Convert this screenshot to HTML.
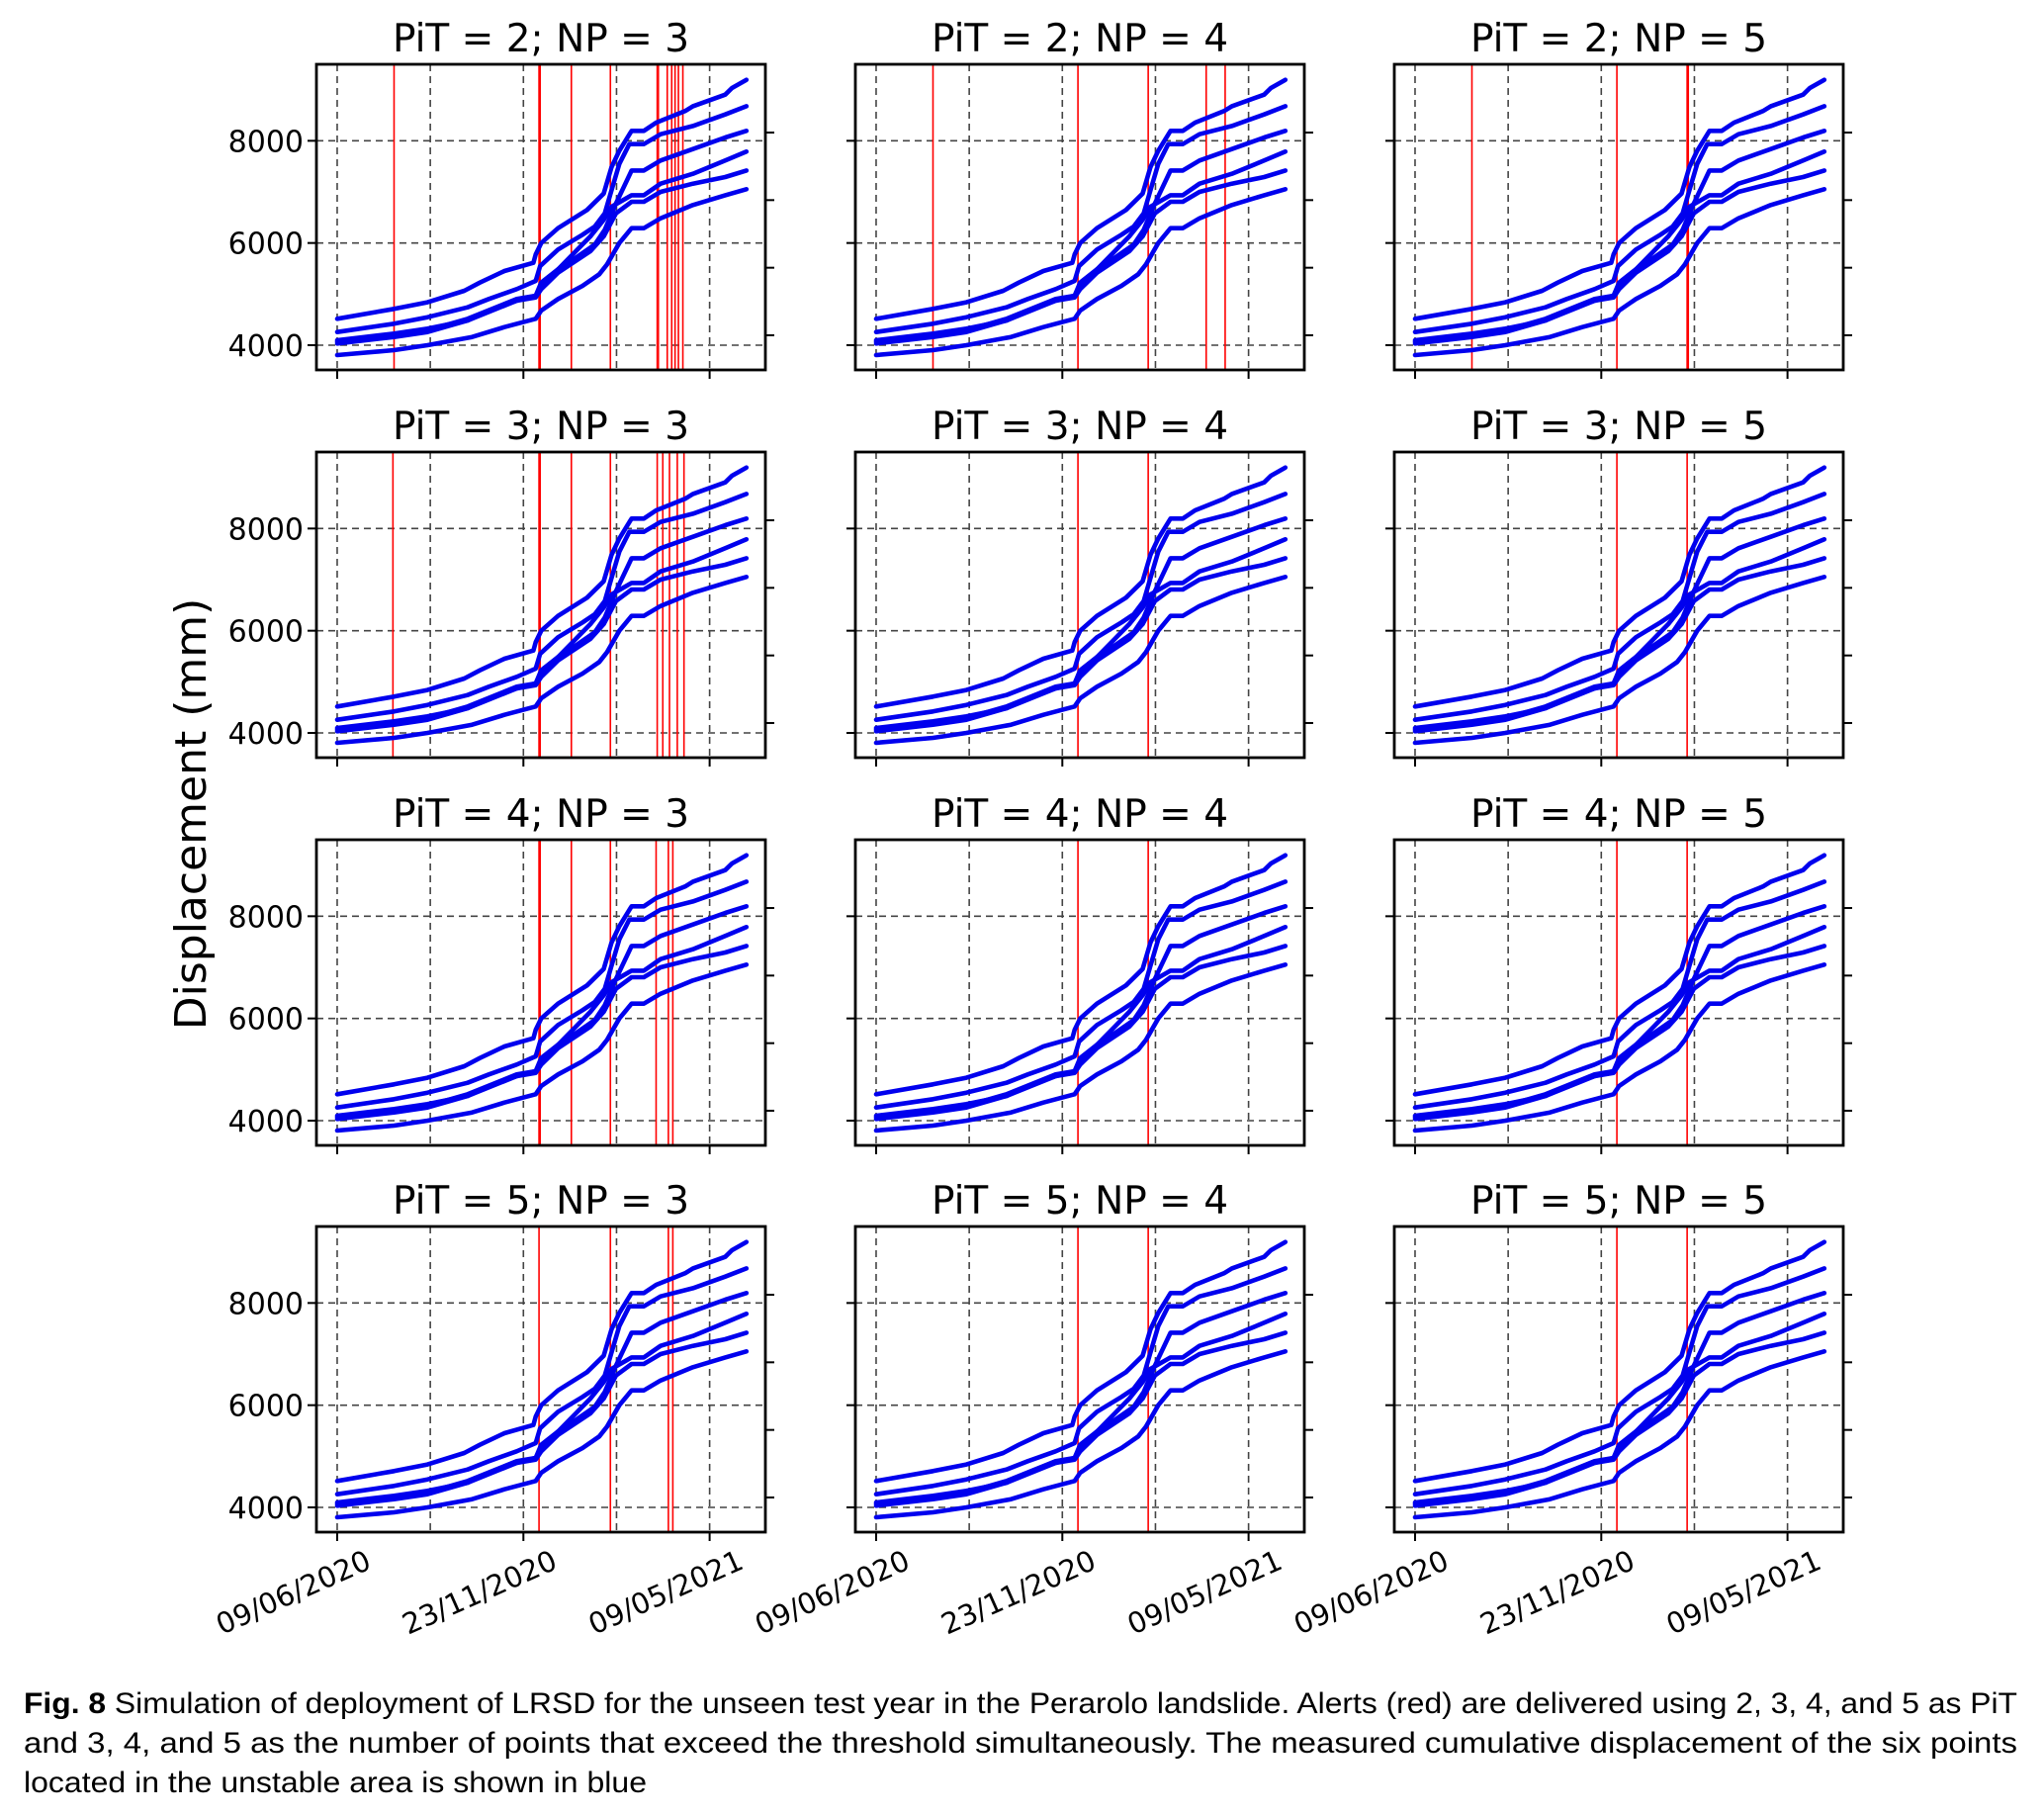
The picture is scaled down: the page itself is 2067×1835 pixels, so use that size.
<!DOCTYPE html>
<html><head><meta charset="utf-8"><style>
html,body{margin:0;padding:0;background:#fff;}
svg{display:block;font-family:"DejaVu Sans","Liberation Sans",sans-serif;}
</style></head><body>
<svg id="fig" width="2067" height="1835" viewBox="0 0 2067 1835" xmlns="http://www.w3.org/2000/svg">
<text x="0" y="0" font-size="44" text-anchor="middle" transform="translate(208,823) rotate(-90)">Displacement (mm)</text>
<g font-family="'Liberation Sans',sans-serif" font-size="30">
<text x="24" y="1732" textLength="2016" lengthAdjust="spacingAndGlyphs"><tspan font-weight="bold">Fig. 8</tspan>  Simulation of deployment of LRSD for the unseen test year in the Perarolo landslide. Alerts (red) are delivered using 2, 3, 4, and 5 as PiT</text>
<text x="24" y="1772" textLength="2016" lengthAdjust="spacingAndGlyphs">and 3, 4, and 5 as the number of points that exceed the threshold simultaneously. The measured cumulative displacement of the six points</text>
<text x="24" y="1812" textLength="630" lengthAdjust="spacingAndGlyphs">located in the unstable area is shown in blue</text>
</g>
</svg>
<script>
// days since 09/06/2020
const xTickDays=[0,167,334];
const xTickLabels=["09/06/2020","23/11/2020","09/05/2021"];
const yTicks=[4000,6000,8000];
const yTickLabels=["4000","6000","8000"];
const s1d=[0,51,81,114,128,150,176,178,183,198,224,239,246,253,264,275,286,312,319,348,354,367];
const s1v=[4516,4710,4839,5065,5226,5452,5613,5774,6000,6290,6645,6968,7484,7806,8194,8194,8355,8581,8677,8903,9032,9194];
const s2d=[0,51,81,117,136,161,178,182,198,220,231,240,246,253,262,275,290,319,348,367];
const s2v=[4258,4419,4548,4742,4903,5097,5258,5548,5871,6161,6323,6581,7032,7548,7935,7935,8129,8290,8516,8677];
const s3d=[0,51,81,117,136,161,178,183,198,216,231,240,250,264,275,290,319,348,367];
const s3v=[4097,4226,4323,4484,4677,4871,4968,5161,5484,5742,5968,6258,6774,7419,7419,7613,7839,8065,8194];
const s4d=[0,51,81,117,161,178,183,198,227,239,246,264,275,290,319,348,367];
const s4v=[4065,4194,4290,4516,4903,4968,5226,5484,6129,6452,6710,6935,6935,7161,7355,7613,7787];
const s5d=[0,51,81,117,161,178,183,198,227,239,250,264,275,290,319,348,367];
const s5v=[4032,4161,4258,4484,4871,4935,5097,5419,5839,6129,6581,6806,6806,7000,7161,7290,7419];
const s6d=[0,51,81,121,150,178,183,198,220,235,242,253,264,275,290,319,348,367];
const s6v=[3806,3903,4000,4161,4355,4516,4677,4903,5161,5387,5581,6000,6290,6290,6484,6742,6935,7052];
const pitValues=[2,3,4,5];
const npValues=[3,4,5];
const alerts23=[51,181,182,210,245,287,288,296,300,303,306,310];
const alerts24=[51,181,244,296,313];
const alerts25=[51,181,244,245];
const alerts33=[50,181,182,210,245,287,292,298,305,311];
const alerts34=[181,244];
const alerts35=[181,244];
const alerts43=[181,182,210,245,286,297,301];
const alerts44=[181,244];
const alerts45=[181,244];
const alerts53=[181,245,297,301];
const alerts54=[181,244];
const alerts55=[181,244];

const alerts=[[alerts23,alerts24,alerts25],[alerts33,alerts34,alerts35],[alerts43,alerts44,alerts45],[alerts53,alerts54,alerts55]];
const series=[[s1d,s1v],[s2d,s2v],[s3d,s3v],[s4d,s4v],[s5d,s5v],[s6d,s6v]];
const NS='http://www.w3.org/2000/svg';
const svg=document.getElementById('fig');
const colL=[320,865,1410], rowT=[65,457,849,1240], W=454, H=309;
const XMIN=-18.6, XMAX=384, YMIN=3516, YMAX=9497;
const secTicks=[4194,5516,6839,8161];
function mk(tag,attrs,parent){const e=document.createElementNS(NS,tag);for(const k in attrs)e.setAttribute(k,attrs[k]);parent.appendChild(e);return e;}
for(let r=0;r<4;r++)for(let c=0;c<3;c++){
  const L=colL[c],T=rowT[r];
  const xs=d=>L+(d-XMIN)/(XMAX-XMIN)*W;
  const ys=v=>T+H-(v-YMIN)/(YMAX-YMIN)*H;
  const g=mk('g',{},svg);
  
  
  const t=mk('text',{x:L+W/2,y:T-13,'font-size':39,'text-anchor':'middle'},g);
  
  
  t.textContent='PiT = '+pitValues[r]+'; NP = '+npValues[c];
  for(let i=0;i<5;i++){const gx=xs(i*83.5);
    const gl=mk('line',{x1:gx,x2:gx,y1:T,y2:T+H,stroke:'#444','stroke-width':1.6,'stroke-dasharray':'7,5'},g);
    
    }
  yTicks.forEach((v,i)=>{const gy=ys(v);
    const gl=mk('line',{x1:L,x2:L+W,y1:gy,y2:gy,stroke:'#444','stroke-width':1.6,'stroke-dasharray':'7,5'},g);
    
    
    mk('line',{x1:L-9,x2:L,y1:gy,y2:gy,stroke:'#000','stroke-width':2},g);
    if(c===0){const tl=mk('text',{x:L-13,y:gy+11,'font-size':30,'text-anchor':'end'},g);
      
      
      tl.textContent=yTickLabels[i];}
  });
  secTicks.forEach(v=>{mk('line',{x1:L+W,x2:L+W+9,y1:ys(v),y2:ys(v),stroke:'#000','stroke-width':2},g);});
  alerts[r][c].forEach(d=>{const a=mk('line',{x1:xs(d),x2:xs(d),y1:T,y2:T+H,stroke:'#ff0000','stroke-width':1.6},g);
    
    });
  series.forEach((s,k)=>{const pts=s[0].map((d,i)=>xs(d).toFixed(1)+','+ys(s[1][i]).toFixed(1)).join(' ');
    const p=mk('polyline',{points:pts,fill:'none',stroke:'#0000ee','stroke-width':4.6,'stroke-linejoin':'round','stroke-linecap':'round'},g);
    
    });
  xTickDays.forEach((d,i)=>{const tx=xs(d);
    mk('line',{x1:tx,x2:tx,y1:T+H,y2:T+H+9,stroke:'#000','stroke-width':2},g);
    if(r===3){const tl=mk('text',{x:0,y:0,'font-size':29,'text-anchor':'end',transform:'translate('+(tx+36)+','+(T+H+36)+') rotate(-24)'},g);
      
      
      tl.textContent=xTickLabels[i];}
  });
  const b=mk('rect',{x:L,y:T,width:W,height:H,fill:'none',stroke:'#000','stroke-width':2.8},g);
  
  
}
</script>
</body></html>
